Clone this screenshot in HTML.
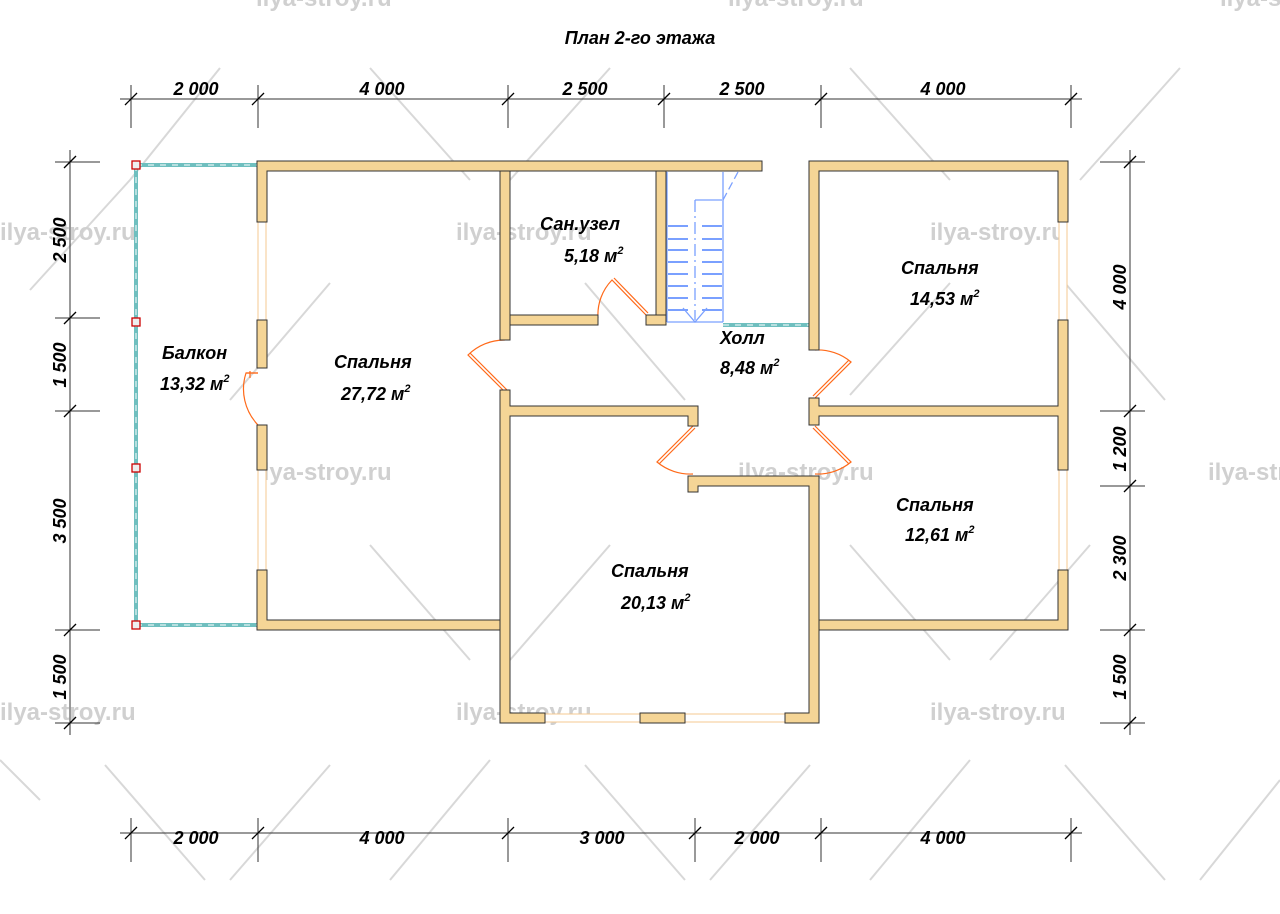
<!DOCTYPE html>
<html><head><meta charset="utf-8"><style>
html,body{margin:0;padding:0;background:#fff;}
svg{display:block;font-family:"Liberation Sans",sans-serif;}
.t{font-weight:bold;font-style:italic;font-size:18px;fill:#000;}
.d{font-weight:bold;font-style:italic;font-size:18px;fill:#000;}
.w{fill:#f5d596;stroke:#333;stroke-width:1;}
.wm{fill:#d0d0d0;font-weight:bold;font-size:24px;}
</style></head><body>
<svg width="1280" height="914" viewBox="0 0 1280 914" xmlns="http://www.w3.org/2000/svg">
<!-- watermark lines -->
<g stroke="#d8d8d8" stroke-width="2">
<line x1="105" y1="765" x2="205" y2="880"/><line x1="330" y1="765" x2="230" y2="880"/>
<line x1="370" y1="545" x2="470" y2="660"/><line x1="610" y1="545" x2="510" y2="660"/>
<line x1="585" y1="765" x2="685" y2="880"/><line x1="810" y1="765" x2="710" y2="880"/>
<line x1="1065" y1="765" x2="1165" y2="880"/><line x1="1280" y1="780" x2="1200" y2="880"/>
<line x1="850" y1="545" x2="950" y2="660"/><line x1="1090" y1="545" x2="990" y2="660"/>
<line x1="370" y1="68" x2="470" y2="180"/><line x1="610" y1="68" x2="510" y2="180"/>
<line x1="850" y1="68" x2="950" y2="180"/><line x1="1180" y1="68" x2="1080" y2="180"/>
<line x1="130" y1="180" x2="30" y2="290"/><line x1="220" y1="68" x2="130" y2="180"/>
<line x1="585" y1="283" x2="685" y2="400"/><line x1="330" y1="283" x2="230" y2="400"/>
<line x1="1065" y1="283" x2="1165" y2="400"/><line x1="850" y1="395" x2="950" y2="283"/>
<line x1="0" y1="760" x2="40" y2="800"/><line x1="490" y1="760" x2="390" y2="880"/>
<line x1="970" y1="760" x2="870" y2="880"/>
</g>
<g class="wm">
<text x="0" y="240">ilya-stroy.ru</text><text x="456" y="240">ilya-stroy.ru</text><text x="930" y="240">ilya-stroy.ru</text>
<text x="256" y="480">ilya-stroy.ru</text><text x="738" y="480">ilya-stroy.ru</text><text x="1208" y="480">ilya-stroy.ru</text>
<text x="0" y="720">ilya-stroy.ru</text><text x="456" y="720">ilya-stroy.ru</text><text x="930" y="720">ilya-stroy.ru</text>
<text x="256" y="6">ilya-stroy.ru</text><text x="728" y="6">ilya-stroy.ru</text><text x="1220" y="6">ilya-stroy.ru</text>
</g>
<text x="640" y="44" class="t" text-anchor="middle" font-size="17">План 2-го этажа</text>

<!-- dimensions -->
<g stroke="#333" stroke-width="1">
<line x1="120" y1="99" x2="1082" y2="99"/>
<line x1="131" y1="85" x2="131" y2="128"/><line x1="258" y1="85" x2="258" y2="128"/><line x1="508" y1="85" x2="508" y2="128"/><line x1="664" y1="85" x2="664" y2="128"/><line x1="821" y1="85" x2="821" y2="128"/><line x1="1071" y1="85" x2="1071" y2="128"/>
<line x1="120" y1="833" x2="1082" y2="833"/>
<line x1="131" y1="818" x2="131" y2="862"/><line x1="258" y1="818" x2="258" y2="862"/><line x1="508" y1="818" x2="508" y2="862"/><line x1="695" y1="818" x2="695" y2="862"/><line x1="821" y1="818" x2="821" y2="862"/><line x1="1071" y1="818" x2="1071" y2="862"/>
<line x1="70" y1="150" x2="70" y2="735"/>
<line x1="55" y1="162" x2="100" y2="162"/><line x1="55" y1="318" x2="100" y2="318"/><line x1="55" y1="411" x2="100" y2="411"/><line x1="55" y1="630" x2="100" y2="630"/><line x1="55" y1="723" x2="100" y2="723"/>
<line x1="1130" y1="150" x2="1130" y2="735"/>
<line x1="1100" y1="162" x2="1145" y2="162"/><line x1="1100" y1="411" x2="1145" y2="411"/><line x1="1100" y1="486" x2="1145" y2="486"/><line x1="1100" y1="630" x2="1145" y2="630"/><line x1="1100" y1="723" x2="1145" y2="723"/>
</g>
<g stroke="#000" stroke-width="1.3">
<line x1="125" y1="105" x2="137" y2="93"/><line x1="252" y1="105" x2="264" y2="93"/><line x1="502" y1="105" x2="514" y2="93"/><line x1="658" y1="105" x2="670" y2="93"/><line x1="815" y1="105" x2="827" y2="93"/><line x1="1065" y1="105" x2="1077" y2="93"/>
<line x1="125" y1="839" x2="137" y2="827"/><line x1="252" y1="839" x2="264" y2="827"/><line x1="502" y1="839" x2="514" y2="827"/><line x1="689" y1="839" x2="701" y2="827"/><line x1="815" y1="839" x2="827" y2="827"/><line x1="1065" y1="839" x2="1077" y2="827"/>
<line x1="64" y1="168" x2="76" y2="156"/><line x1="64" y1="324" x2="76" y2="312"/><line x1="64" y1="417" x2="76" y2="405"/><line x1="64" y1="636" x2="76" y2="624"/><line x1="64" y1="729" x2="76" y2="717"/>
<line x1="1124" y1="168" x2="1136" y2="156"/><line x1="1124" y1="417" x2="1136" y2="405"/><line x1="1124" y1="492" x2="1136" y2="480"/><line x1="1124" y1="636" x2="1136" y2="624"/><line x1="1124" y1="729" x2="1136" y2="717"/>
</g>
<g class="d" text-anchor="middle">
<text x="196" y="95">2 000</text><text x="382" y="95">4 000</text><text x="585" y="95">2 500</text><text x="742" y="95">2 500</text><text x="943" y="95">4 000</text>
<text x="196" y="844">2 000</text><text x="382" y="844">4 000</text><text x="602" y="844">3 000</text><text x="757" y="844">2 000</text><text x="943" y="844">4 000</text>
<text transform="translate(66,240) rotate(-90)">2 500</text>
<text transform="translate(66,365) rotate(-90)">1 500</text>
<text transform="translate(66,521) rotate(-90)">3 500</text>
<text transform="translate(66,677) rotate(-90)">1 500</text>
<text transform="translate(1126,287) rotate(-90)">4 000</text>
<text transform="translate(1126,449) rotate(-90)">1 200</text>
<text transform="translate(1126,558) rotate(-90)">2 300</text>
<text transform="translate(1126,677) rotate(-90)">1 500</text>
</g>

<!-- balcony rails -->
<g stroke="#6fbfbf" stroke-width="4" fill="none">
<line x1="136" y1="165" x2="257" y2="165"/><line x1="136" y1="625" x2="257" y2="625"/><line x1="136" y1="165" x2="136" y2="625"/>
</g>
<g stroke="#fff" stroke-width="1" stroke-dasharray="6 6">
<line x1="136" y1="165" x2="257" y2="165"/><line x1="136" y1="625" x2="257" y2="625"/><line x1="136" y1="165" x2="136" y2="625"/>
</g>
<g fill="#eee" stroke="#c00" stroke-width="1.3">
<rect x="132" y="161" width="8" height="8"/><rect x="132" y="318" width="8" height="8"/><rect x="132" y="464" width="8" height="8"/><rect x="132" y="621" width="8" height="8"/>
</g>
<!-- hall railing -->
<line x1="723" y1="325" x2="809" y2="325" stroke="#6fbfbf" stroke-width="4"/>
<line x1="723" y1="325" x2="809" y2="325" stroke="#fff" stroke-width="1" stroke-dasharray="6 6"/>

<!-- windows -->
<g fill="#fff" stroke="#f5c890" stroke-width="1">
<rect x="258" y="222" width="8" height="98"/><rect x="258" y="470" width="8" height="100"/>
<rect x="1059" y="222" width="8" height="98"/><rect x="1059" y="470" width="8" height="100"/>
<rect x="545" y="714" width="95" height="8"/><rect x="685" y="714" width="100" height="8"/>
</g>

<!-- stairs -->
<g stroke="#7aa0ff" stroke-width="1.3" fill="none">
<line x1="667" y1="172" x2="667" y2="322"/>
<line x1="723" y1="172" x2="723" y2="322"/>
<line x1="667" y1="322" x2="723" y2="322"/>
<g stroke-width="2">
<line x1="668" y1="226" x2="688" y2="226"/><line x1="702" y1="226" x2="722" y2="226"/>
<line x1="668" y1="239" x2="688" y2="239"/><line x1="702" y1="239" x2="722" y2="239"/>
<line x1="668" y1="250" x2="688" y2="250"/><line x1="702" y1="250" x2="722" y2="250"/>
<line x1="668" y1="262" x2="688" y2="262"/><line x1="702" y1="262" x2="722" y2="262"/>
<line x1="668" y1="274" x2="688" y2="274"/><line x1="702" y1="274" x2="722" y2="274"/>
<line x1="668" y1="286" x2="688" y2="286"/><line x1="702" y1="286" x2="722" y2="286"/>
<line x1="668" y1="298" x2="688" y2="298"/><line x1="702" y1="298" x2="722" y2="298"/>
<line x1="668" y1="310" x2="688" y2="310"/><line x1="702" y1="310" x2="722" y2="310"/>
</g>
<line x1="695" y1="200" x2="695" y2="320" stroke-dasharray="12 4 2 4"/>
<polyline points="695,200 722,200"/>
<polyline points="683,308 695,322 707,308"/>
<line x1="723" y1="200" x2="738" y2="172" stroke-dasharray="8 4"/>
</g>

<!-- doors -->
<g stroke="#ff6a1a" stroke-width="1.2" fill="none">
<path d="M258 373 L246 373 A52 52 0 0 0 258 425"/>
<line x1="246" y1="373" x2="258" y2="373"/><line x1="250" y1="371" x2="250" y2="378"/>
<path d="M598 318 A50 50 0 0 1 612 280 L646 315"/><line x1="614" y1="278" x2="648" y2="313"/>
<path d="M505 340 A52 52 0 0 0 468 355 L505 392"/><line x1="470" y1="353" x2="507" y2="390"/>
<path d="M815 350 A52 52 0 0 1 851 362 L815 398"/><line x1="849" y1="360" x2="813" y2="396"/>
<path d="M815 426 L851 462 A52 52 0 0 1 815 474"/><line x1="813" y1="428" x2="849" y2="464"/>
<path d="M693 426 L657 462 A52 52 0 0 0 693 474"/><line x1="695" y1="428" x2="659" y2="464"/>
</g>

<!-- walls -->
<g class="w">
<path d="M257 161 L762 161 L762 171 L267 171 L267 222 L257 222 Z"/>
<rect x="257" y="320" width="10" height="48"/>
<rect x="257" y="425" width="10" height="45"/>
<path d="M257 570 L267 570 L267 620 L510 620 L510 630 L257 630 Z"/>
<rect x="500" y="171" width="10" height="169"/>
<rect x="510" y="315" width="88" height="10"/>
<rect x="646" y="315" width="20" height="10"/>
<rect x="656" y="171" width="10" height="144"/>
<path d="M500 390 L510 390 L510 406 L698 406 L698 426 L688 426 L688 416 L510 416 L510 713 L545 713 L545 723 L500 723 Z"/>
<rect x="640" y="713" width="45" height="10"/>
<path d="M785 713 L809 713 L809 486 L698 486 L698 492 L688 492 L688 476 L819 476 L819 723 L785 723 Z"/>
<path d="M809 161 L1068 161 L1068 222 L1058 222 L1058 171 L819 171 L819 350 L809 350 Z"/>
<path d="M809 398 L819 398 L819 406 L1058 406 L1058 320 L1068 320 L1068 470 L1058 470 L1058 416 L819 416 L819 425 L809 425 Z"/>
<path d="M1058 570 L1068 570 L1068 630 L819 630 L819 620 L1058 620 Z"/>
</g>

<!-- labels -->
<g class="t">
<text x="162" y="359">Балкон</text><text x="160" y="390">13,32 м<tspan font-size="11" dy="-8">2</tspan></text>
<text x="334" y="368">Спальня</text><text x="341" y="400">27,72 м<tspan font-size="11" dy="-8">2</tspan></text>
<text x="540" y="230">Сан.узел</text><text x="564" y="262">5,18 м<tspan font-size="11" dy="-8">2</tspan></text>
<text x="720" y="344">Холл</text><text x="720" y="374">8,48 м<tspan font-size="11" dy="-8">2</tspan></text>
<text x="901" y="274">Спальня</text><text x="910" y="305">14,53 м<tspan font-size="11" dy="-8">2</tspan></text>
<text x="896" y="511">Спальня</text><text x="905" y="541">12,61 м<tspan font-size="11" dy="-8">2</tspan></text>
<text x="611" y="577">Спальня</text><text x="621" y="609">20,13 м<tspan font-size="11" dy="-8">2</tspan></text>
</g>
</svg>
</body></html>
